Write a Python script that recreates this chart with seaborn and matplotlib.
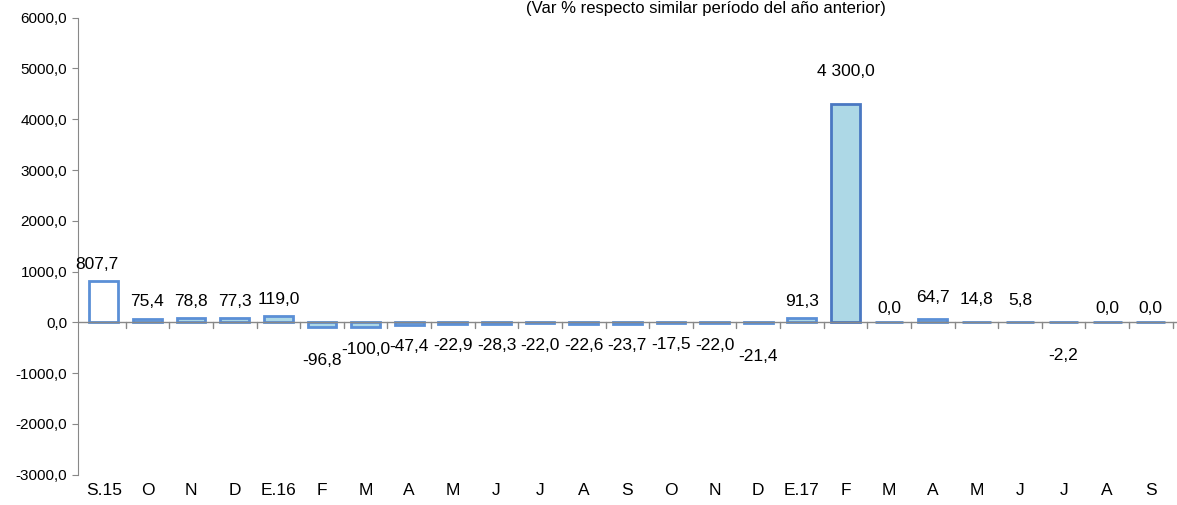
import matplotlib
matplotlib.use("Agg")
import matplotlib.pyplot as plt
import seaborn as sns
import pandas as pd

months = ["S.15", "O", "N", "D", "E.16", "F", "M", "A", "M", "J", "J", "A", "S",
          "O", "N", "D", "E.17", "F", "M", "A", "M", "J", "J", "A", "S"]
values = [807.7, 75.4, 78.8, 77.3, 119.0, -96.8, -100.0, -47.4, -22.9, -28.3, -22.0,
          -22.6, -23.7, -17.5, -22.0, -21.4, 91.3, 4300.0, 0.0, 64.7, 14.8, 5.8, -2.2, 0.0, 0.0]
labels = ["807,7", "75,4", "78,8", "77,3", "119,0", "-96,8", "-100,0", "-47,4", "-22,9",
          "-28,3", "-22,0", "-22,6", "-23,7", "-17,5", "-22,0", "-21,4", "91,3", "4 300,0",
          "0,0", "64,7", "14,8", "5,8", "-2,2", "0,0", "0,0"]

sns.set_style("white")
plt.rcParams["font.family"] = ["Liberation Sans", "DejaVu Sans"]
plt.rcParams["text.color"] = "black"
plt.rcParams["xtick.color"] = "black"
plt.rcParams["ytick.color"] = "black"

df = pd.DataFrame({"pos": range(len(values)), "val": values})
fig, ax = plt.subplots(figsize=(11.77, 5.05), dpi=100)
fig.subplots_adjust(left=0.066, right=1.0, top=0.965, bottom=0.06)

sns.barplot(data=df, x="pos", y="val", ax=ax, width=0.66, color="#add8e6",
            saturation=1, edgecolor="#5b8fd6", linewidth=2)
ax.patches[0].set_facecolor("white")
ax.patches[17].set_edgecolor("#4a78c2")

for i, (v, t) in enumerate(zip(values, labels)):
    if v > 0 or t == "0,0":
        y = v + 180 if i != 17 else v + 500
        if i in (18, 23, 24):
            y = v + 120
        if i in (19, 20, 21):
            y = v + 280
        ax.text(i - (0.15 if i == 0 else 0), y, t, ha="center", va="bottom", fontsize=12.5)
    else:
        off = 500 if i in (5, 15, 22) else 280
        ax.text(i, v - off, t, ha="center", va="top", fontsize=12.5)

ax.set_ylim(-3000, 6000)
ax.set_xlim(-0.6, len(values) - 0.4)
ax.set_yticks(range(-3000, 6001, 1000))
ax.set_yticklabels([f"{y:.1f}".replace(".", ",") for y in range(-3000, 6001, 1000)], fontsize=11)
ax.set_xticks(range(len(values)))
ax.set_xticklabels(months, fontsize=12.5)
ax.tick_params(axis="x", length=0, pad=6)
ax.tick_params(axis="y", length=4, left=True, color="#888888")
ax.set_xlabel("")
ax.set_ylabel("")
for s in ["top", "right", "bottom"]:
    ax.spines[s].set_visible(False)
ax.spines["left"].set_color("#888888")
ax.axhline(0, color="#888888", lw=1)
for b in range(len(values)):
    ax.plot([b + 0.5, b + 0.5], [0, -120], color="#888888", lw=1)

fig.text(0.6, 0.975, "(Var % respecto similar período del año anterior)", ha="center", fontsize=12)
fig.savefig("out.png")
